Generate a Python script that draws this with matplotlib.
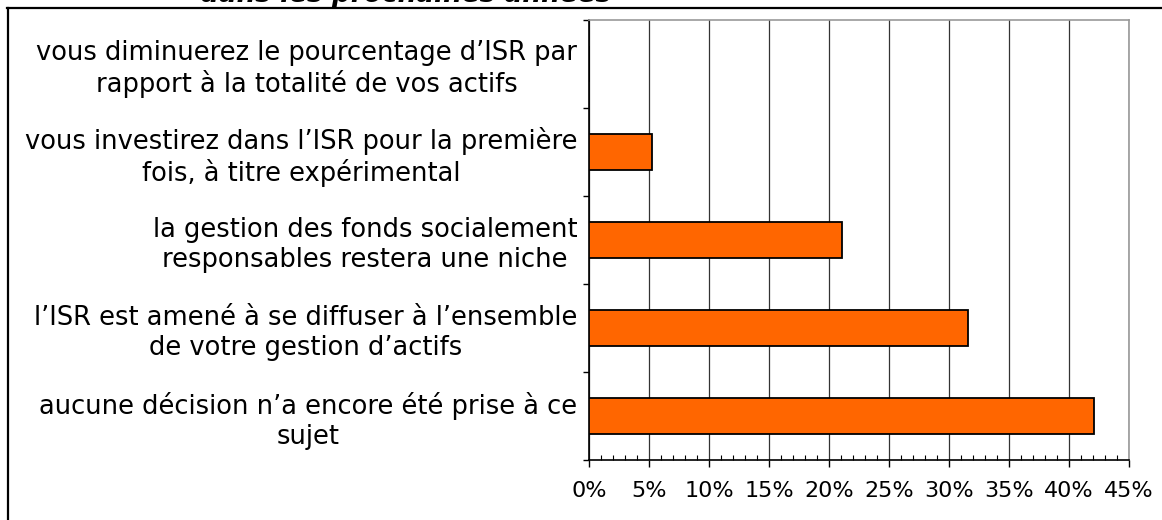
import matplotlib
matplotlib.use('Agg')
import matplotlib.pyplot as plt
import numpy as np
from matplotlib.lines import Line2D
from matplotlib.ticker import MultipleLocator, FixedLocator, FuncFormatter

# Data (bottom to top)
categories = [
    "aucune décision n’a encore été prise à ce\nsujet",
    "l’ISR est amené à se diffuser à l’ensemble\nde votre gestion d’actifs",
    "la gestion des fonds socialement\nresponsables restera une niche",
    "vous investirez dans l’ISR pour la première\nfois, à titre expérimental",
    "vous diminuerez le pourcentage d’ISR par\nrapport à la totalité de vos actifs",
]
values = [42.1, 31.6, 21.05, 5.26, 0.0]
title_text = "dans les prochaines années"

W, H = 1162, 520
fig = plt.figure(figsize=(W / 100, H / 100), dpi=100)
ax = fig.add_axes([589 / W, 1 - 460 / H, (1129 - 589) / W, (460 - 20) / H])

pos = np.arange(len(categories)) + 0.5
ax.barh(pos, values, height=0.41, color='#FF6600', edgecolor='black', linewidth=1.3, zorder=3)

ax.set_xlim(0, 45)
ax.set_ylim(0, len(categories))

# x axis
ax.xaxis.set_major_locator(MultipleLocator(5))
ax.xaxis.set_minor_locator(MultipleLocator(1))
ax.xaxis.set_major_formatter(FuncFormatter(lambda v, p: f"{int(round(v))}%"))
ax.tick_params(axis='x', which='major', direction='out', length=5, width=1, pad=10, labelsize=16)
ax.tick_params(axis='x', which='minor', direction='in', length=3.5, width=0.8)
ax.grid(axis='x', which='major', color='#333333', linewidth=0.9, zorder=0)

# y axis: boundaries as major ticks, labels on minor ticks
ax.yaxis.set_major_locator(FixedLocator(np.arange(len(categories) + 1)))
ax.yaxis.set_minor_locator(FixedLocator(pos))
ax.set_yticklabels([], minor=False)
ax.set_yticklabels(categories, minor=True, fontsize=18.5, linespacing=1.2, multialignment='center')
ax.tick_params(axis='y', which='major', direction='out', length=4.5, width=1)
ax.tick_params(axis='y', which='minor', length=0, pad=8.5)

for s in ['left', 'bottom']:
    ax.spines[s].set_color('black')
    ax.spines[s].set_linewidth(1.2)
for s in ['top', 'right']:
    ax.spines[s].set_color('#999999')
    ax.spines[s].set_linewidth(1.2)

# outer frame (top and left only visible)
fig.add_artist(Line2D([7 / W, 1], [1 - 7.7 / H, 1 - 7.7 / H], color='black', linewidth=1.6,
                      transform=fig.transFigure))
fig.add_artist(Line2D([7.5 / W, 7.5 / W], [0, 1 - 7.7 / H], color='black', linewidth=1.6,
                      transform=fig.transFigure))

# clipped title at the top
fig.text(200 / W, 1 - 2 / H, title_text, ha='left', va='baseline', fontsize=19,
         fontweight='bold', fontstyle='italic')

fig.savefig('out.png', dpi=100)
